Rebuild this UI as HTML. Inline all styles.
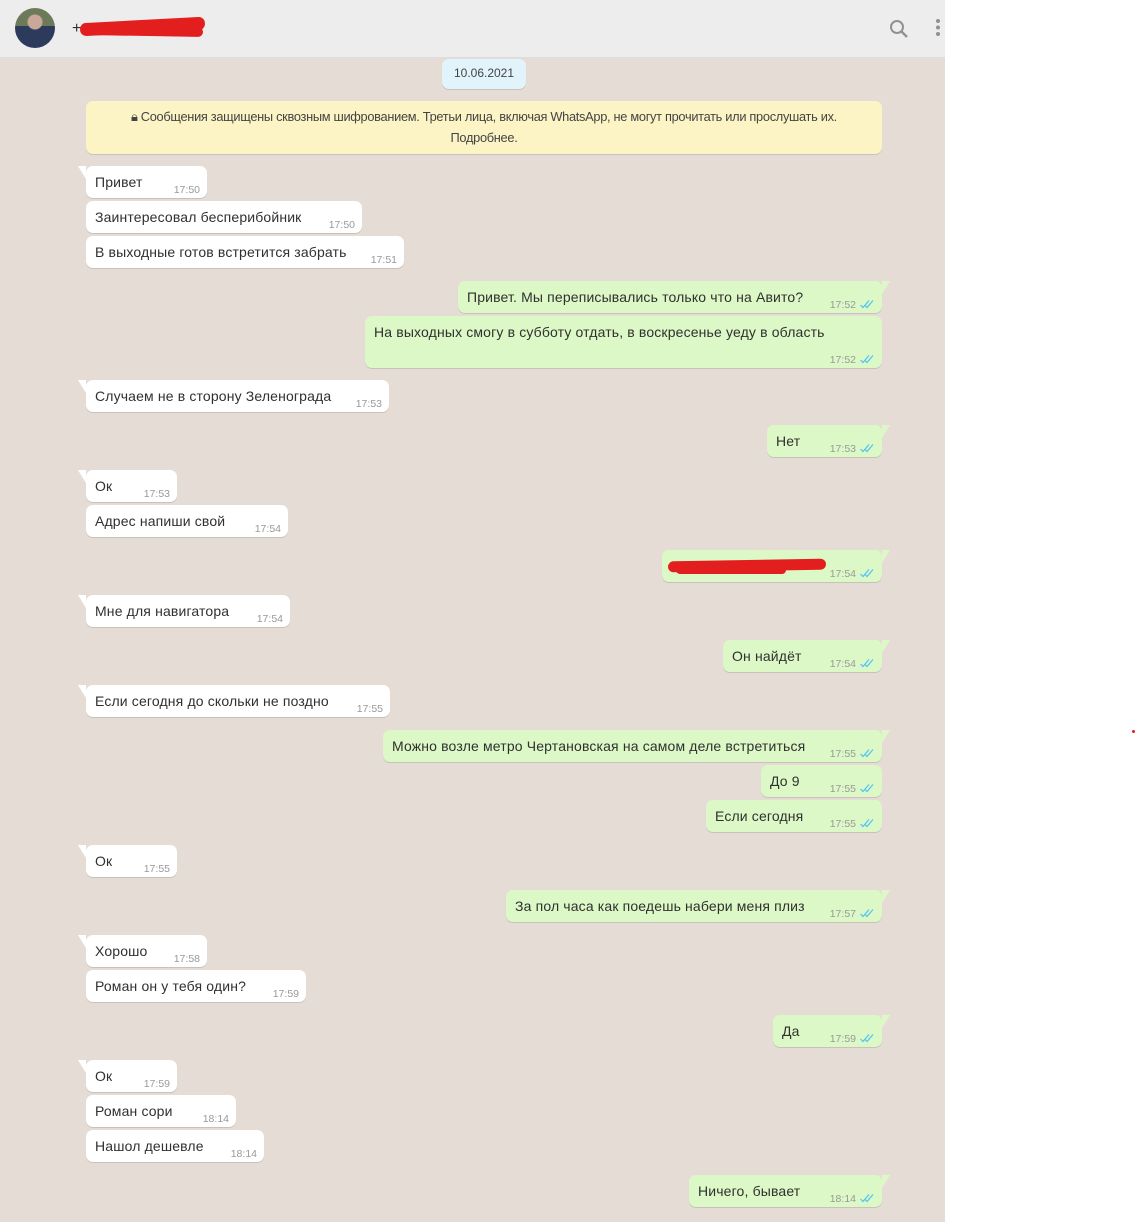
<!DOCTYPE html>
<html><head><meta charset="utf-8">
<style>
*{margin:0;padding:0;box-sizing:border-box}
body{width:1136px;height:1222px;background:#fff;position:relative;overflow:hidden;font-family:"Liberation Sans","DejaVu Sans",sans-serif;color:#303030}
#hdr{position:absolute;left:0;top:0;width:945px;height:58px;background:#ededed;border-bottom:1px solid #dcdcdc}
#chat{position:absolute;left:0;top:58px;width:945px;height:1164px;background:#e5ddd5}
.av{position:absolute;left:15px;top:8px;width:40px;height:40px;border-radius:50%;background:radial-gradient(circle at 50% 35%,#c9a89a 0 7px,transparent 8px),linear-gradient(#6c7a5a 0 45%,#2c3a5c 45%);}
.b{position:absolute;height:32px;border-radius:7px;background:#fff;box-shadow:0 1px 0.5px rgba(0,0,0,.13);font-size:14px;letter-spacing:0.15px}
.o{background:#dcf8c6}
.b .t{position:absolute;left:9px;top:8px;white-space:nowrap}
.b .tm{position:absolute;bottom:2px;right:7px;font-size:10.5px;color:#999;letter-spacing:0}
.o .tm{right:26px}
.o .ck{position:absolute;right:8px;bottom:4px;width:14px;height:10px}
.tl:before{content:"";position:absolute;left:-8px;top:0;border-top:13px solid #fff;border-left:8px solid transparent}
.o.tl:before{left:auto;right:-8px;border-top-color:#dcf8c6;border-left:0;border-right:8px solid transparent}
</style></head><body>
<div id="hdr">
<div class="av"></div>
<div style="position:absolute;left:72px;top:20px;font-size:16px;color:#333">+</div>
<div style="position:absolute;left:80px;top:20px;width:125px;height:13px;background:#e31e1e;border-radius:6px;transform:rotate(-3deg)"></div>
<div style="position:absolute;left:88px;top:26px;width:115px;height:10px;background:#e31e1e;border-radius:5px;transform:rotate(1deg)"></div>
<svg style="position:absolute;left:889px;top:19px" width="20" height="20"><circle cx="8" cy="8" r="6" fill="none" stroke="#919191" stroke-width="2"/><line x1="12.5" y1="12.5" x2="18" y2="18" stroke="#919191" stroke-width="2.4"/></svg>
<svg style="position:absolute;left:934px;top:18px" width="8" height="20"><circle cx="4" cy="3" r="2" fill="#919191"/><circle cx="4" cy="9.5" r="2" fill="#919191"/><circle cx="4" cy="16" r="2" fill="#919191"/></svg>
</div>
<div id="chat"></div>
<div style="position:absolute;left:1132px;top:730px;width:3px;height:3px;border-radius:50%;background:#e31e1e"></div>

<div style="position:absolute;left:442px;top:59px;width:84px;height:30px;background:#e1f3fb;border-radius:7px;font-size:12px;text-align:center;line-height:28px;color:#444;box-shadow:0 1px .5px rgba(0,0,0,.13)">10.06.2021</div>
<div style="position:absolute;left:86px;top:101px;width:796px;height:53px;background:#fcf4c4;border-radius:7px;font-size:12.8px;text-align:center;color:#444;box-shadow:0 1px .5px rgba(0,0,0,.13);line-height:21px;padding-top:5px;letter-spacing:-0.3px;white-space:nowrap">🔒&#xFE0E; Сообщения защищены сквозным шифрованием. Третьи лица, включая WhatsApp, не могут прочитать или прослушать их.<br>Подробнее.</div>

<!-- incoming -->
<div class="b tl" style="left:86px;top:166px;width:121px"><span class="t">Привет</span><span class="tm">17:50</span></div>
<div class="b" style="left:86px;top:201px;width:276px"><span class="t">Заинтересовал бесперибойник</span><span class="tm">17:50</span></div>
<div class="b" style="left:86px;top:236px;width:318px"><span class="t">В выходные готов встретится забрать</span><span class="tm">17:51</span></div>
<div class="b tl" style="left:86px;top:380px;width:303px"><span class="t">Случаем не в сторону Зеленограда</span><span class="tm">17:53</span></div>
<div class="b tl" style="left:86px;top:470px;width:91px"><span class="t">Ок</span><span class="tm">17:53</span></div>
<div class="b" style="left:86px;top:505px;width:202px"><span class="t">Адрес напиши свой</span><span class="tm">17:54</span></div>
<div class="b tl" style="left:86px;top:595px;width:204px"><span class="t">Мне для навигатора</span><span class="tm">17:54</span></div>
<div class="b tl" style="left:86px;top:685px;width:304px"><span class="t">Если сегодня до скольки не поздно</span><span class="tm">17:55</span></div>
<div class="b tl" style="left:86px;top:845px;width:91px"><span class="t">Ок</span><span class="tm">17:55</span></div>
<div class="b tl" style="left:86px;top:935px;width:121px"><span class="t">Хорошо</span><span class="tm">17:58</span></div>
<div class="b" style="left:86px;top:970px;width:220px"><span class="t">Роман он у тебя один?</span><span class="tm">17:59</span></div>
<div class="b tl" style="left:86px;top:1060px;width:91px"><span class="t">Ок</span><span class="tm">17:59</span></div>
<div class="b" style="left:86px;top:1095px;width:150px"><span class="t">Роман сори</span><span class="tm">18:14</span></div>
<div class="b" style="left:86px;top:1130px;width:178px"><span class="t">Нашол дешевле</span><span class="tm">18:14</span></div>

<!-- outgoing -->
<svg width="0" height="0" style="position:absolute"><defs><g id="ck"><path d="M0.5 6 L3 8.5 L9 1.5 M4.5 6 L7 8.5 L13 1.5" fill="none" stroke="#4fc3f7" stroke-width="1.2"/></g></defs></svg>
<div class="b o tl" style="left:458px;top:281px;width:424px"><span class="t">Привет. Мы переписывались только что на Авито?</span><span class="tm">17:52</span><svg class="ck"><use href="#ck"/></svg></div>
<div class="b o" style="left:365px;top:316px;width:517px;height:52px"><span class="t">На выходных смогу в субботу отдать, в воскресенье уеду в область</span><span class="tm">17:52</span><svg class="ck"><use href="#ck"/></svg></div>
<div class="b o tl" style="left:767px;top:425px;width:115px"><span class="t">Нет</span><span class="tm">17:53</span><svg class="ck"><use href="#ck"/></svg></div>
<div class="b o tl" style="left:662px;top:550px;width:220px"><div style="position:absolute;left:6px;top:10px;width:158px;height:11px;background:#e31e1e;border-radius:6px;transform:rotate(-1deg)"></div><div style="position:absolute;left:14px;top:16px;width:110px;height:8px;background:#e31e1e;border-radius:4px"></div><span class="tm">17:54</span><svg class="ck"><use href="#ck"/></svg></div>
<div class="b o tl" style="left:723px;top:640px;width:159px"><span class="t">Он найдёт</span><span class="tm">17:54</span><svg class="ck"><use href="#ck"/></svg></div>
<div class="b o tl" style="left:383px;top:730px;width:499px"><span class="t">Можно возле метро Чертановская на самом деле встретиться</span><span class="tm">17:55</span><svg class="ck"><use href="#ck"/></svg></div>
<div class="b o" style="left:761px;top:765px;width:121px"><span class="t">До 9</span><span class="tm">17:55</span><svg class="ck"><use href="#ck"/></svg></div>
<div class="b o" style="left:706px;top:800px;width:176px"><span class="t">Если сегодня</span><span class="tm">17:55</span><svg class="ck"><use href="#ck"/></svg></div>
<div class="b o tl" style="left:506px;top:890px;width:376px"><span class="t">За пол часа как поедешь набери меня плиз</span><span class="tm">17:57</span><svg class="ck"><use href="#ck"/></svg></div>
<div class="b o tl" style="left:773px;top:1015px;width:109px"><span class="t">Да</span><span class="tm">17:59</span><svg class="ck"><use href="#ck"/></svg></div>
<div class="b o tl" style="left:689px;top:1175px;width:193px"><span class="t">Ничего, бывает</span><span class="tm">18:14</span><svg class="ck"><use href="#ck"/></svg></div>
</body></html>
